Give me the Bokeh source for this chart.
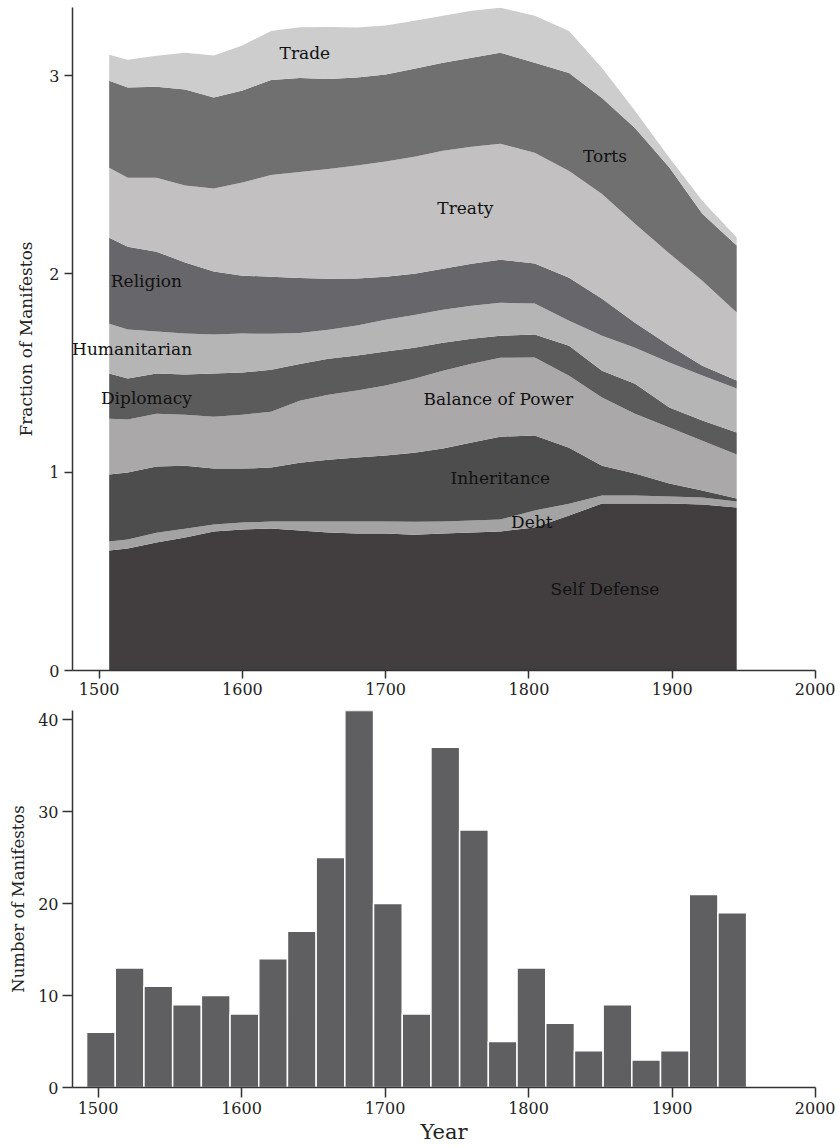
from bokeh.plotting import figure
from bokeh.models import ColumnDataSource, Range1d, FixedTicker, Label
from bokeh.layouts import column
from bokeh.embed import file_html
from bokeh.resources import INLINE

# ---------------- data: topic fractions (stacked) ----------------
years = [1507, 1520, 1540, 1560, 1580, 1600, 1620, 1640, 1660, 1680, 1700,
         1720, 1740, 1760, 1780, 1804, 1828, 1851, 1874, 1898, 1921, 1945]

self_defense = [0.605, 0.615, 0.645, 0.670, 0.701, 0.711, 0.716, 0.706, 0.696, 0.691, 0.691,
                0.685, 0.691, 0.696, 0.701, 0.721, 0.781, 0.842, 0.842, 0.842, 0.837, 0.822]
debt = [0.045, 0.045, 0.050, 0.045, 0.035, 0.035, 0.035, 0.045, 0.055, 0.060, 0.060,
        0.065, 0.060, 0.060, 0.060, 0.086, 0.060, 0.040, 0.040, 0.035, 0.035, 0.030]
inheritance = [0.338, 0.338, 0.333, 0.318, 0.282, 0.272, 0.272, 0.297, 0.312, 0.323, 0.333,
               0.348, 0.368, 0.393, 0.418, 0.378, 0.282, 0.151, 0.111, 0.066, 0.035, 0.015]
balance_of_power = [0.282, 0.267, 0.267, 0.257, 0.262, 0.272, 0.282, 0.312, 0.328, 0.338, 0.353,
                    0.373, 0.393, 0.398, 0.398, 0.393, 0.363, 0.343, 0.302, 0.282, 0.252, 0.222]
diplomacy = [0.227, 0.207, 0.202, 0.202, 0.217, 0.212, 0.212, 0.186, 0.181, 0.176, 0.171,
             0.156, 0.141, 0.126, 0.111, 0.116, 0.151, 0.136, 0.151, 0.101, 0.101, 0.111]
humanitarian = [0.252, 0.247, 0.212, 0.207, 0.197, 0.197, 0.181, 0.156, 0.146, 0.151, 0.161,
                0.166, 0.166, 0.166, 0.166, 0.156, 0.126, 0.176, 0.181, 0.227, 0.227, 0.222]
religion = [0.433, 0.418, 0.403, 0.358, 0.318, 0.292, 0.287, 0.277, 0.257, 0.237, 0.217,
            0.207, 0.207, 0.212, 0.217, 0.202, 0.217, 0.186, 0.126, 0.086, 0.050, 0.040]
treaty = [0.353, 0.348, 0.373, 0.388, 0.418, 0.469, 0.514, 0.534, 0.554, 0.570, 0.580,
          0.590, 0.595, 0.590, 0.585, 0.559, 0.539, 0.529, 0.499, 0.464, 0.428, 0.343]
torts = [0.439, 0.454, 0.459, 0.484, 0.459, 0.464, 0.479, 0.474, 0.454, 0.444, 0.439,
         0.444, 0.444, 0.449, 0.459, 0.454, 0.494, 0.484, 0.484, 0.433, 0.338, 0.338]
trade = [0.131, 0.141, 0.156, 0.186, 0.212, 0.227, 0.247, 0.257, 0.262, 0.252, 0.247,
         0.242, 0.237, 0.237, 0.227, 0.237, 0.212, 0.151, 0.086, 0.050, 0.066, 0.040]

topics = ["Self Defense", "Debt", "Inheritance", "Balance of Power", "Diplomacy",
          "Humanitarian", "Religion", "Treaty", "Torts", "Trade"]
topic_values = [self_defense, debt, inheritance, balance_of_power, diplomacy,
                humanitarian, religion, treaty, torts, trade]

# ---------------- data: manifestos per 20-year bin ----------------
bin_centers = [1502, 1522, 1542, 1562, 1582, 1602, 1622, 1642, 1662, 1682, 1702, 1722,
               1742, 1762, 1782, 1802, 1822, 1842, 1862, 1882, 1902, 1922, 1942]
counts = [6, 13, 11, 9, 10, 8, 14, 17, 25, 41, 20, 8,
          37, 28, 5, 13, 7, 4, 9, 3, 4, 21, 19]

x_ticks = [1500, 1600, 1700, 1800, 1900, 2000]

# ---------------- style ----------------
FONT = "DejaVu Serif"
AX = "#333333"
topic_colors = ["#423e40", "#a3a3a3", "#4d4d4d", "#aaa8a9", "#5b5b5b",
                "#b5b5b5", "#67666a", "#c2c0c1", "#707070", "#cdcdcd"]
BAR = "#5f5f62"


def style_axes(p):
    p.xgrid.visible = False
    p.ygrid.visible = False
    p.outline_line_color = None
    p.background_fill_color = "white"
    p.border_fill_color = "white"
    for ax in (p.xaxis[0], p.yaxis[0]):
        ax.axis_line_color = AX
        ax.axis_line_width = 1.5
        ax.major_tick_line_color = AX
        ax.major_tick_line_width = 1.5
        ax.major_tick_in = 0
        ax.minor_tick_line_color = None
        ax.major_label_text_font = FONT
        ax.major_label_text_font_size = "16px"
        ax.major_label_text_color = "#222222"
        ax.axis_label_text_font = FONT
        ax.axis_label_text_font_style = "normal"
        ax.axis_label_text_color = "#222222"


# ---------------- top: stacked area ----------------
src = ColumnDataSource({"year": years, **{t: v for t, v in zip(topics, topic_values)}})

p1 = figure(width=835, height=702, output_backend="svg", toolbar_location=None,
            x_range=Range1d(1481.4, 2000), y_range=Range1d(0, 3.343),
            min_border_left=69, min_border_right=20, min_border_top=7, min_border_bottom=32)
p1.varea_stack(stackers=topics, x="year", color=topic_colors, source=src)
style_axes(p1)
p1.xaxis.ticker = FixedTicker(ticks=x_ticks)
p1.yaxis.ticker = FixedTicker(ticks=[0, 1, 2, 3])
p1.xaxis.major_tick_out = 8
p1.yaxis.major_tick_out = 8
p1.xaxis.major_label_standoff = 4
p1.yaxis.major_label_standoff = 5
p1.yaxis.axis_label = "Fraction of Manifestos"
p1.yaxis.axis_label_text_font_size = "17px"
p1.yaxis.axis_label_standoff = 10

label_specs = [("Trade", 1643.6, 3.115), ("Torts", 1853, 2.596), ("Treaty", 1755.6, 2.334),
               ("Religion", 1533, 1.966), ("Humanitarian", 1523, 1.623),
               ("Diplomacy", 1533, 1.376), ("Balance of Power", 1778.6, 1.371),
               ("Inheritance", 1780, 0.973), ("Debt", 1802, 0.751),
               ("Self Defense", 1853, 0.413)]
for txt, lx, ly in label_specs:
    p1.add_layout(Label(x=lx, y=ly, text=txt, text_font=FONT, text_font_size="17px",
                        text_color="#111111", text_align="center", text_baseline="middle"))

# ---------------- bottom: histogram ----------------
p2 = figure(width=835, height=444, output_backend="svg", toolbar_location=None,
            x_range=Range1d(1482.2, 2000), y_range=Range1d(0, 41),
            min_border_left=72, min_border_right=20, min_border_top=8, min_border_bottom=59)
p2.vbar(x=bin_centers, top=counts, width=20, bottom=0,
        fill_color=BAR, line_color="white", line_width=1.5)
style_axes(p2)
p2.xaxis.ticker = FixedTicker(ticks=x_ticks)
p2.yaxis.ticker = FixedTicker(ticks=[0, 10, 20, 30, 40])
p2.xaxis.major_tick_out = 10
p2.yaxis.major_tick_out = 10
p2.xaxis.major_label_standoff = 4
p2.yaxis.major_label_standoff = 4
p2.xaxis.axis_label = "Year"
p2.xaxis.axis_label_text_font_size = "21px"
p2.xaxis.axis_label_standoff = 3
p2.yaxis.axis_label = "Number of Manifestos"
p2.yaxis.axis_label_text_font_size = "16.5px"
p2.yaxis.axis_label_standoff = 7

layout = column(p1, p2, spacing=0)
open("out.html", "w").write(file_html(layout, INLINE))
